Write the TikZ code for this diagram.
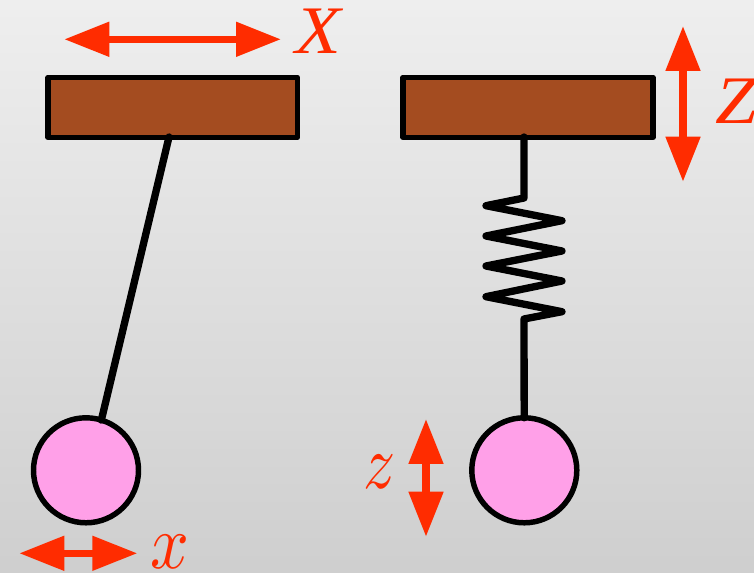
\documentclass[tikz,border=0pt]{standalone}
\usepackage{graphicx}
\usepackage{fontspec}
\setmainfont{Liberation Serif}
\usetikzlibrary{arrows.meta}
\definecolor{arrowred}{HTML}{FF2C00}
\definecolor{barbrown}{HTML}{A44C20}
\definecolor{bobpink}{HTML}{FFA0E8}
\font\labsmall=cmmi10 at 58pt
\tikzset{
  x=0.75pt,y=-0.75pt,
  barbox/.style={draw=black,fill=barbrown,line width=4.1pt,line join=round,inner sep=0pt,outer sep=0pt,minimum height=45pt},
  bob/.style={circle,draw=black,fill=bobpink,line width=4.1pt,inner sep=0pt,outer sep=0pt,minimum size=78.75pt},
  rod/.style={draw=black,line width=5.5pt,line cap=round,line join=round},
  motion/.style={arrowred,line width=5.3pt,{Triangle[length=33.75pt,width=25pt,sep=0pt]}-{Triangle[length=33.75pt,width=25pt,sep=0pt]}},
  biglab/.style={text=arrowred,font=\fontsize{51}{51}\selectfont\itshape,inner sep=0pt,outer sep=0pt,anchor=base west},
  smalllab/.style={text=arrowred,font=\labsmall,inner sep=0pt,outer sep=0pt,anchor=base west}
}
\begin{document}
\begin{tikzpicture}
\useasboundingbox (0,0) rectangle (754,573);
\shade[top color=black!6.5,bottom color=black!19] (0,0) rectangle (754,573);
\coordinate (pivotL) at (169,137);
\coordinate (pivotR) at (524,137);
\node[bob] (bobL) at (86,470.3) {};
\node[bob] (bobR) at (524.3,470.3) {};
\node[barbox,minimum width=187pt] (barL) at (172.7,107.4) {};
\node[barbox,minimum width=187.5pt] (barR) at (528,107.4) {};
\draw[rod] (pivotL) -- (bobL.73);
\coordinate (s1) at (524,198);
\coordinate (s2) at (524,319);
\draw[rod] (pivotR) -- (s1) -- (486,205.7) -- (562,220.7) -- (486,236) -- (562,251) -- (486,266) -- (562,281) -- (486,296.7) -- (562,311.7) -- (s2) -- (bobR);
\coordinate (XL) at (64.3,39.3);
\coordinate (XR) at (281,39.3);
\coordinate (xL) at (19.3,553.3);
\coordinate (xR) at (137.3,553.3);
\coordinate (ZT) at (683,26);
\coordinate (ZB) at (683,181.7);
\coordinate (zT) at (426,419);
\coordinate (zB) at (426,536.7);
\draw[motion] (XL) -- (XR);
\draw[motion] (xL) -- (xR);
\draw[motion] (ZT) -- (ZB);
\draw[motion] (zT) -- (zB);
\node[biglab] (labX) at (295,54) {\scalebox{1.1}[1]{X}};
\node[smalllab] (labx) at (150,569) {\scalebox{0.88}[1]{x}};
\node[biglab] (labZ) at (715,123.5) {\scalebox{1.1}[1]{Z}};
\node[smalllab] (labz) at (363,489) {\scalebox{0.82}[1]{z}};
\end{tikzpicture}
\end{document}
